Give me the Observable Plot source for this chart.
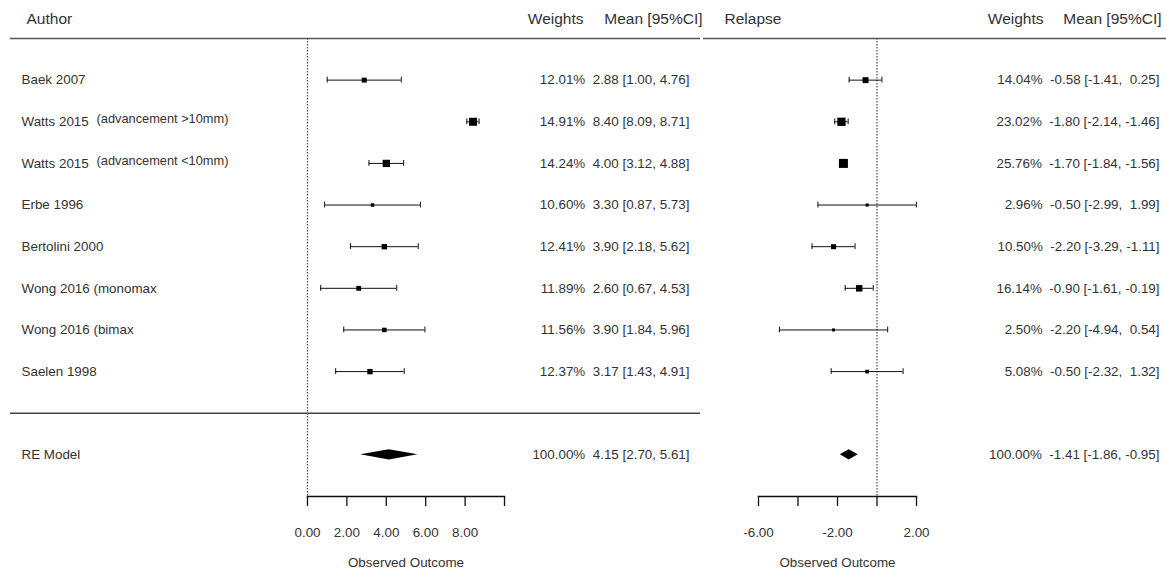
<!DOCTYPE html>
<html>
<head>
<meta charset="utf-8">
<script src="https://cdn.jsdelivr.net/npm/d3@7"></script>
<script src="https://cdn.jsdelivr.net/npm/@observablehq/plot@0.6"></script>
<style>
  html, body { margin: 0; padding: 0; background: #fff; }
  #chart { position: relative; width: 1166px; height: 571px; overflow: hidden; }
  #chart > svg { position: absolute; top: 0; }
</style>
</head>
<body>
<div id="chart"></div>
<script>
// ---------- data ----------
const authors = ["Baek 2007", "Watts 2015", "Watts 2015", "Erbe 1996", "Bertolini 2000", "Wong 2016 (monomax", "Wong 2016 (bimax", "Saelen 1998"];
const notes = ["", "(advancement >10mm)", "(advancement <10mm)", "", "", "", "", ""];

const advWeights = [12.01, 14.91, 14.24, 10.60, 12.41, 11.89, 11.56, 12.37];
const advMean    = [2.88, 8.40, 4.00, 3.30, 3.90, 2.60, 3.90, 3.17];
const advLo      = [1.00, 8.09, 3.12, 0.87, 2.18, 0.67, 1.84, 1.43];
const advHi      = [4.76, 8.71, 4.88, 5.73, 5.62, 4.53, 5.96, 4.91];

const relWeights = [14.04, 23.02, 25.76, 2.96, 10.50, 16.14, 2.50, 5.08];
const relMean    = [-0.58, -1.80, -1.70, -0.50, -2.20, -0.90, -2.20, -0.50];
const relLo      = [-1.41, -2.14, -1.84, -2.99, -3.29, -1.61, -4.94, -2.32];
const relHi      = [0.25, -1.46, -1.56, 1.99, -1.11, -0.19, 0.54, 1.32];

const reLabel = "RE Model";
const advRE = {w: 100.00, est: 4.15, lo: 2.70, hi: 5.61};
const relRE = {w: 100.00, est: -1.41, lo: -1.86, hi: -0.95};

const advTicks = [0, 2, 4, 6, 8, 10];
const advTickLabels = ["0.00", "2.00", "4.00", "6.00", "8.00", ""];
const relTicks = [-6, -4, -2, 0, 2];
const relTickLabels = ["-6.00", "", "-2.00", "", "2.00"];

const axisTitle = "Observed Outcome";
const leftHeaders = {first: "Author", weights: "Weights", ci: "Mean [95%CI]"};
const rightHeaders = {first: "Relapse", weights: "Weights", ci: "Mean [95%CI]"};

// ---------- layout rows ----------
const nStudies = authors.length;
const sepRow = nStudies + 1;
const reRow = nStudies + 2;
const axisRow = nStudies + 3;

const TEXT = "#333";
const INK = "#111";
const FONT = "'Liberation Sans', Arial, sans-serif";
const FS = 13.4;     // body text
const HFS = 15.5;    // header text

const SP = "\u00a0";
function fmtPad(v) { const s = v.toFixed(2); return v >= 0 ? SP + s : s; }
function fmtPlain(v) { return v.toFixed(2); }

function makePanel(cfg) {
  const studies = authors.map((a, i) => ({
    row: i + 1, author: a, note: notes[i],
    w: cfg.weights[i], est: cfg.mean[i], lo: cfg.lo[i], hi: cfg.hi[i]
  }));
  const hasNeg = cfg.mean.some(v => v < 0);
  const f = hasNeg ? fmtPad : fmtPlain;
  const annot = d => `${d.w.toFixed(2)}%${SP}${SP}${fmtPlain(d.est)} [${fmtPlain(d.lo)}, ${f(d.hi)}]`;
  const re = cfg.re;
  const h = 0.125;
  const diamond = [
    {y: reRow - h, x1: re.est, x2: re.est},
    {y: reRow, x1: re.lo, x2: re.hi},
    {y: reRow + h, x1: re.est, x2: re.est}
  ];
  const cap = 0.07;
  const tickMap = new Map(cfg.ticks.map((t, i) => [t, cfg.tickLabels[i]]));
  const wExt = d3.extent(cfg.weights);
  const SQ = Math.sqrt(Math.PI);

  return Plot.plot({
    width: cfg.width,
    height: 571,
    marginLeft: cfg.marginLeft,
    marginRight: cfg.marginRight,
    marginTop: 38,
    marginBottom: 75,
    style: {fontFamily: FONT, fontSize: FS + "px", color: TEXT, background: "transparent", overflow: "visible"},
    x: {domain: d3.extent(cfg.ticks), axis: null},
    y: {domain: [0, axisRow], reverse: true, axis: null},
    r: {type: "linear", domain: wExt, range: [cfg.sqMin / SQ, cfg.sqMax / SQ]},
    marks: [
      // header rule and separator rule
      Plot.ruleY([0], {stroke: "#555", strokeWidth: 1.6, insetLeft: -cfg.lineLeft, insetRight: -cfg.lineRight}),
      ...(cfg.separator ? [Plot.ruleY([sepRow], {stroke: "#444", strokeWidth: 1.3, insetLeft: -cfg.lineLeft, insetRight: -cfg.lineRight})] : []),
      // reference (null) line
      Plot.ruleX([0], {stroke: "#444", strokeWidth: 1.2, strokeDasharray: "1.5,1.5"}),
      // axis
      Plot.frame({anchor: "bottom", stroke: INK, strokeWidth: 1.3}),
      Plot.axisX(cfg.ticks, {anchor: "bottom", tickSize: 10, tickPadding: 21, tickFormat: d => tickMap.get(d), label: null, stroke: INK, strokeWidth: 1.3, fill: TEXT, fontSize: FS}),
      Plot.text([axisTitle], {frameAnchor: "bottom", lineAnchor: "middle", dy: 66, fill: TEXT, fontSize: FS}),
      // CIs
      Plot.ruleY(studies, {y: "row", x1: "lo", x2: "hi", stroke: INK, strokeWidth: 1}),
      Plot.ruleX(studies, {x: "lo", y1: d => d.row - cap, y2: d => d.row + cap, stroke: INK, strokeWidth: 1}),
      Plot.ruleX(studies, {x: "hi", y1: d => d.row - cap, y2: d => d.row + cap, stroke: INK, strokeWidth: 1}),
      Plot.dot(studies, {x: "est", y: "row", r: "w", symbol: "square", fill: "#000", stroke: null}),
      // RE diamond
      Plot.areaX(diamond, {y: "y", x1: "x1", x2: "x2", fill: "#000", curve: "linear"}),
      // left text column
      Plot.text([cfg.headers.first], {frameAnchor: "top-left", lineAnchor: "middle", dx: cfg.headDx, dy: -19, textAnchor: "start", fill: TEXT, fontSize: HFS}),
      ...(cfg.showAuthors ? [
        Plot.text(studies, {y: "row", text: "author", frameAnchor: "left", dx: cfg.authorDx, textAnchor: "start", fill: TEXT}),
        Plot.text(studies, {y: "row", text: "note", frameAnchor: "left", dx: cfg.noteDx, dy: -2.5, textAnchor: "start", fill: TEXT, fontSize: 12.8}),
        Plot.text([reLabel], {y: reRow, frameAnchor: "left", dx: cfg.authorDx, textAnchor: "start", fill: TEXT})
      ] : []),
      // right text columns
      Plot.text([cfg.headers.weights], {frameAnchor: "top-right", lineAnchor: "middle", dx: cfg.wHeadDx, dy: -19, textAnchor: "end", fill: TEXT, fontSize: HFS}),
      Plot.text([cfg.headers.ci], {frameAnchor: "top-right", lineAnchor: "middle", dx: cfg.ciHeadDx, dy: -19, textAnchor: "end", fill: TEXT, fontSize: HFS}),
      Plot.text(studies, {y: "row", text: annot, frameAnchor: "right", dx: cfg.ciDx, textAnchor: "end", fill: TEXT}),
      Plot.text([re], {y: reRow, text: annot, frameAnchor: "right", dx: cfg.ciDx, textAnchor: "end", fill: TEXT})
    ]
  });
}

const left = makePanel({
  width: 700, marginLeft: 307, marginRight: 196,
  weights: advWeights, mean: advMean, lo: advLo, hi: advHi, re: advRE,
  ticks: advTicks, tickLabels: advTickLabels, headers: leftHeaders,
  sqMin: 3.5, sqMax: 8, lineLeft: 297, lineRight: 196, separator: true,
  showAuthors: true, headDx: -281, authorDx: -286, noteDx: -211,
  wHeadDx: 79, ciHeadDx: 198, ciDx: 185
});
const right = makePanel({
  width: 466, marginLeft: 58, marginRight: 250,
  weights: relWeights, mean: relMean, lo: relLo, hi: relHi, re: relRE,
  ticks: relTicks, tickLabels: relTickLabels, headers: rightHeaders,
  sqMin: 3, sqMax: 9, lineLeft: 55, lineRight: 250, separator: false,
  showAuthors: false, headDx: -34, authorDx: 0, noteDx: 0,
  wHeadDx: 127, ciHeadDx: 245, ciDx: 243
});
left.style.left = "0px";
right.style.left = "700px";
const chart = document.getElementById("chart");
chart.appendChild(left);
chart.appendChild(right);
</script>
</body>
</html>
